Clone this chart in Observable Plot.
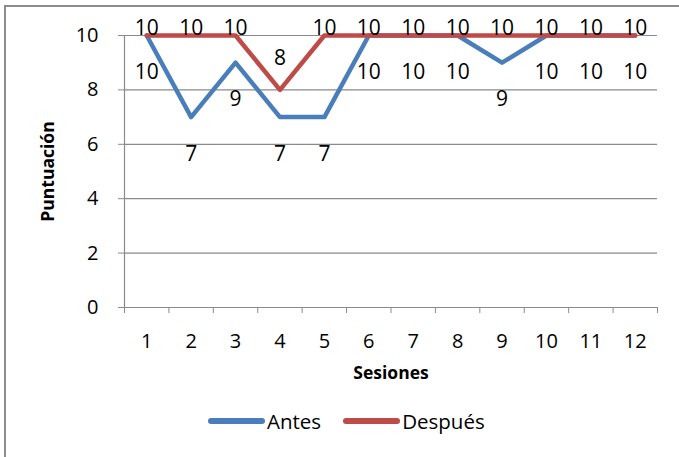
<!DOCTYPE html>
<html>
<head>
<meta charset="utf-8">
<script src="https://cdn.jsdelivr.net/npm/d3@7"></script>
<script src="https://cdn.jsdelivr.net/npm/@observablehq/plot@0.6"></script>
<style>
  html, body { margin: 0; padding: 0; background: #fff; }
  #chart { position: relative; width: 679px; height: 457px; overflow: hidden; font-family: "Open Sans", sans-serif; }
  #frame { position: absolute; left: 4px; top: 5px; width: 720px; height: 500px; border: 2px solid #8c8c8c; pointer-events: none; }
  #legend { position: absolute; left: 208px; top: 401px; height: 40px; display: flex; align-items: center; font-size: 20.5px; color: #000; }
  .item { display: flex; align-items: center; margin-right: 22px; }
  .swatch { width: 57px; height: 5.5px; border-radius: 3px; margin-right: 2px; }
</style>
</head>
<body>
<div id="chart">
  <div id="frame"></div>
  <div id="legend"></div>
</div>
<script>
// Puntuación por sesión, antes y después
const sessions = [1, 2, 3, 4, 5, 6, 7, 8, 9, 10, 11, 12];
const antes    = [10, 7, 9, 7, 7, 10, 10, 10, 9, 10, 10, 10];
const despues  = [10, 10, 10, 8, 10, 10, 10, 10, 10, 10, 10, 10];
const yTicks   = [0, 2, 4, 6, 8, 10];
const seriesNames  = ["Antes", "Después"];
const seriesColors = ["#4a7ebb", "#be4b48"];

const rows = sessions.map((s, i) => ({session: s, antes: antes[i], despues: despues[i]}));
// category boundaries for the tick marks between sessions
const bounds = d3.range(sessions.length + 1).map(i => i + 0.5);

const grid = "#8a8a8a";

const plot = Plot.plot({
  width: 679,
  height: 400,
  marginLeft: 124,
  marginRight: 22,
  marginTop: 35,
  marginBottom: 93,
  style: {fontFamily: "Open Sans, sans-serif", fontSize: "20px", color: "#000", background: "transparent"},
  x: {domain: [0.5, sessions.length + 0.5]},
  y: {domain: [0, 10]},
  marks: [
    Plot.ruleY(yTicks, {stroke: grid, strokeWidth: 1.2}),
    Plot.ruleX([0.5], {stroke: grid, strokeWidth: 1.2}),
    Plot.axisY(yTicks, {tickSize: 6, tickPadding: 20, stroke: grid, label: null, fontSize: 20}),
    Plot.axisX(bounds, {tickSize: 6, tickFormat: () => "", stroke: grid, label: null}),
    Plot.axisX(sessions, {tickSize: 0, tickPadding: 26, label: null, fontSize: 20}),
    Plot.line(rows, {x: "session", y: "antes", stroke: seriesColors[0], strokeWidth: 4.5, strokeLinejoin: "round", strokeLinecap: "round"}),
    Plot.line(rows, {x: "session", y: "despues", stroke: seriesColors[1], strokeWidth: 4.5, strokeLinejoin: "round", strokeLinecap: "round"}),
    // value labels: "Antes" below its points
    Plot.text(rows, {x: "session", y: "antes", text: "antes", dy: 37, fontSize: 21}),
    // "Después" above its points, kept inside the chart area at the top
    Plot.text(rows, {filter: d => d.despues < 10, x: "session", y: "despues", text: "despues", dy: -32, fontSize: 21}),
    Plot.text(rows, {filter: d => d.despues >= 10, x: "session", y: "despues", text: "despues", dy: -7, fontSize: 21}),
    Plot.text(["Puntuación"], {frameAnchor: "left", textAnchor: "middle", rotate: -90, dx: -76, fontWeight: "bold", fontSize: 17.5}),
    Plot.text(["Sesiones"], {frameAnchor: "bottom", textAnchor: "middle", dy: 71, fontWeight: "bold", fontSize: 17.5})
  ]
});
document.getElementById("chart").insertBefore(plot, document.getElementById("legend"));

const legend = document.getElementById("legend");
seriesNames.forEach((name, i) => {
  const item = document.createElement("div");
  item.className = "item";
  const sw = document.createElement("div");
  sw.className = "swatch";
  sw.style.background = seriesColors[i];
  const label = document.createElement("span");
  label.textContent = name;
  item.appendChild(sw);
  item.appendChild(label);
  legend.appendChild(item);
});
</script>
</body>
</html>
